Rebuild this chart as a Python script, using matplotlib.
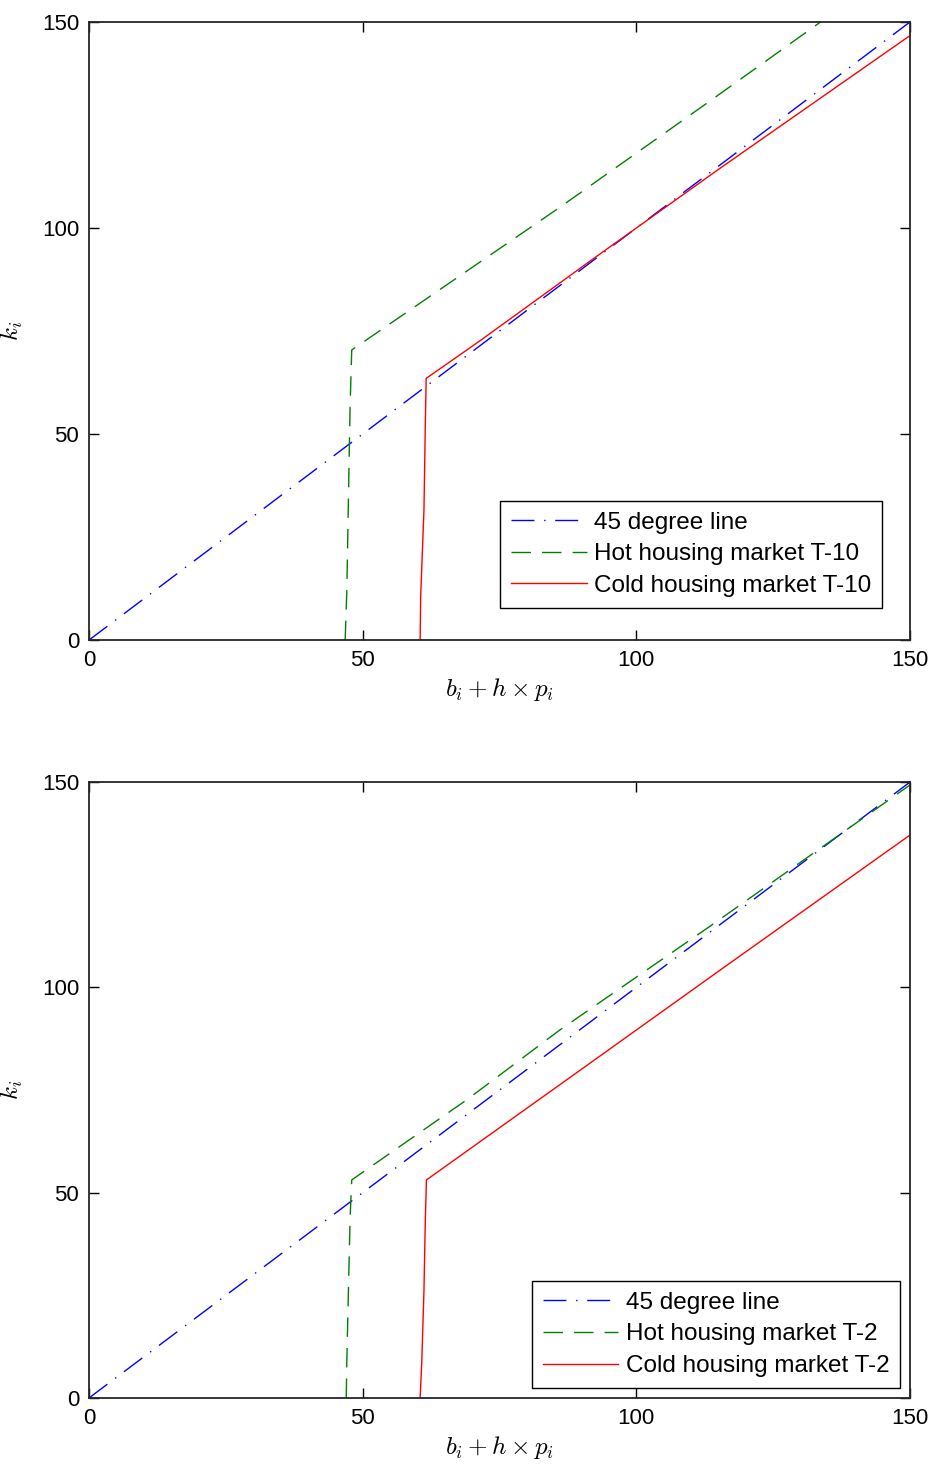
import numpy as np
import matplotlib
matplotlib.use("Agg")
import matplotlib.pyplot as plt

plt.rcParams['font.family'] = ['Liberation Sans', 'DejaVu Sans']
plt.rcParams['mathtext.fontset'] = 'cm'

# 45 degree line
diag_x = [0, 150]
diag_y = [0, 150]

# T-10 panel
hot10_x = [46.8, 47.1, 47.4, 47.7, 48.0, 86.0, 112.9, 150.0]
hot10_y = [0.0, 11.7, 34.4, 56.6, 70.4, 105.0, 130.3, 165.5]
cold10_x = [60.5, 60.6, 61.2, 61.45, 61.6, 71.4, 92.2, 115.3, 150.0]
cold10_y = [0.0, 10.7, 31.7, 52.7, 63.5, 72.6, 92.6, 114.5, 146.7]

# T-2 panel
hot2_x = [47.0, 47.1, 47.4, 47.7, 48.0, 69.0, 86.0, 113.8, 150.0]
hot2_y = [0.0, 8.8, 26.3, 43.7, 53.1, 72.6, 89.6, 115.2, 149.3]
cold2_x = [60.5, 60.8, 61.2, 61.45, 61.65, 75.1, 92.75, 115.3, 150.0]
cold2_y = [0.0, 8.8, 26.3, 43.7, 53.1, 65.9, 82.7, 104.2, 137.1]

ticks = [0, 50, 100, 150]

fig = plt.figure(figsize=(9.32, 14.64), dpi=100)
ax1 = fig.add_axes([0.0955, 0.5628, 0.8809, 0.4222])
ax2 = fig.add_axes([0.0955, 0.0451, 0.8809, 0.4207])


def draw(ax, hx, hy, cx, cy, tag, leg_anchor):
    ax.plot(diag_x, diag_y, color=(0, 0, 1), lw=1.0,
            linestyle=(0, (16.5, 7, 1, 7)), label='45 degree line')
    ax.plot(hx, hy, color=(0, 0.5, 0), lw=1.0,
            linestyle=(0, (14, 8)), label='Hot housing market ' + tag)
    ax.plot(cx, cy, color=(1, 0, 0), lw=1.0, label='Cold housing market ' + tag)
    ax.set_xlim(0, 150)
    ax.set_ylim(0, 150)
    ax.set_xticks(ticks)
    ax.set_yticks(ticks)
    ax.tick_params(direction='in', length=7, width=1, top=True, right=True,
                   labelsize=16, pad=7)
    for s in ax.spines.values():
        s.set_linewidth(1.3)
        s.set_color('#262626')
    ax.set_xlabel(r'$b_i + h \times p_i$', fontsize=18, labelpad=4)
    ax.set_ylabel(r'$k_i$', fontsize=18, labelpad=12)
    leg = ax.legend(loc='lower right', bbox_to_anchor=leg_anchor,
                    borderaxespad=0, fontsize=17.5, handlelength=3.1,
                    handletextpad=0.3, labelspacing=0.4, borderpad=0.45,
                    fancybox=False, framealpha=1, edgecolor='black')
    leg.get_frame().set_linewidth(1.0)


draw(ax1, hot10_x, hot10_y, cold10_x, cold10_y, 'T-10', (0.966, 0.052))
draw(ax2, hot2_x, hot2_y, cold2_x, cold2_y, 'T-2', (0.988, 0.016))

fig.savefig('out.png', dpi=100)
